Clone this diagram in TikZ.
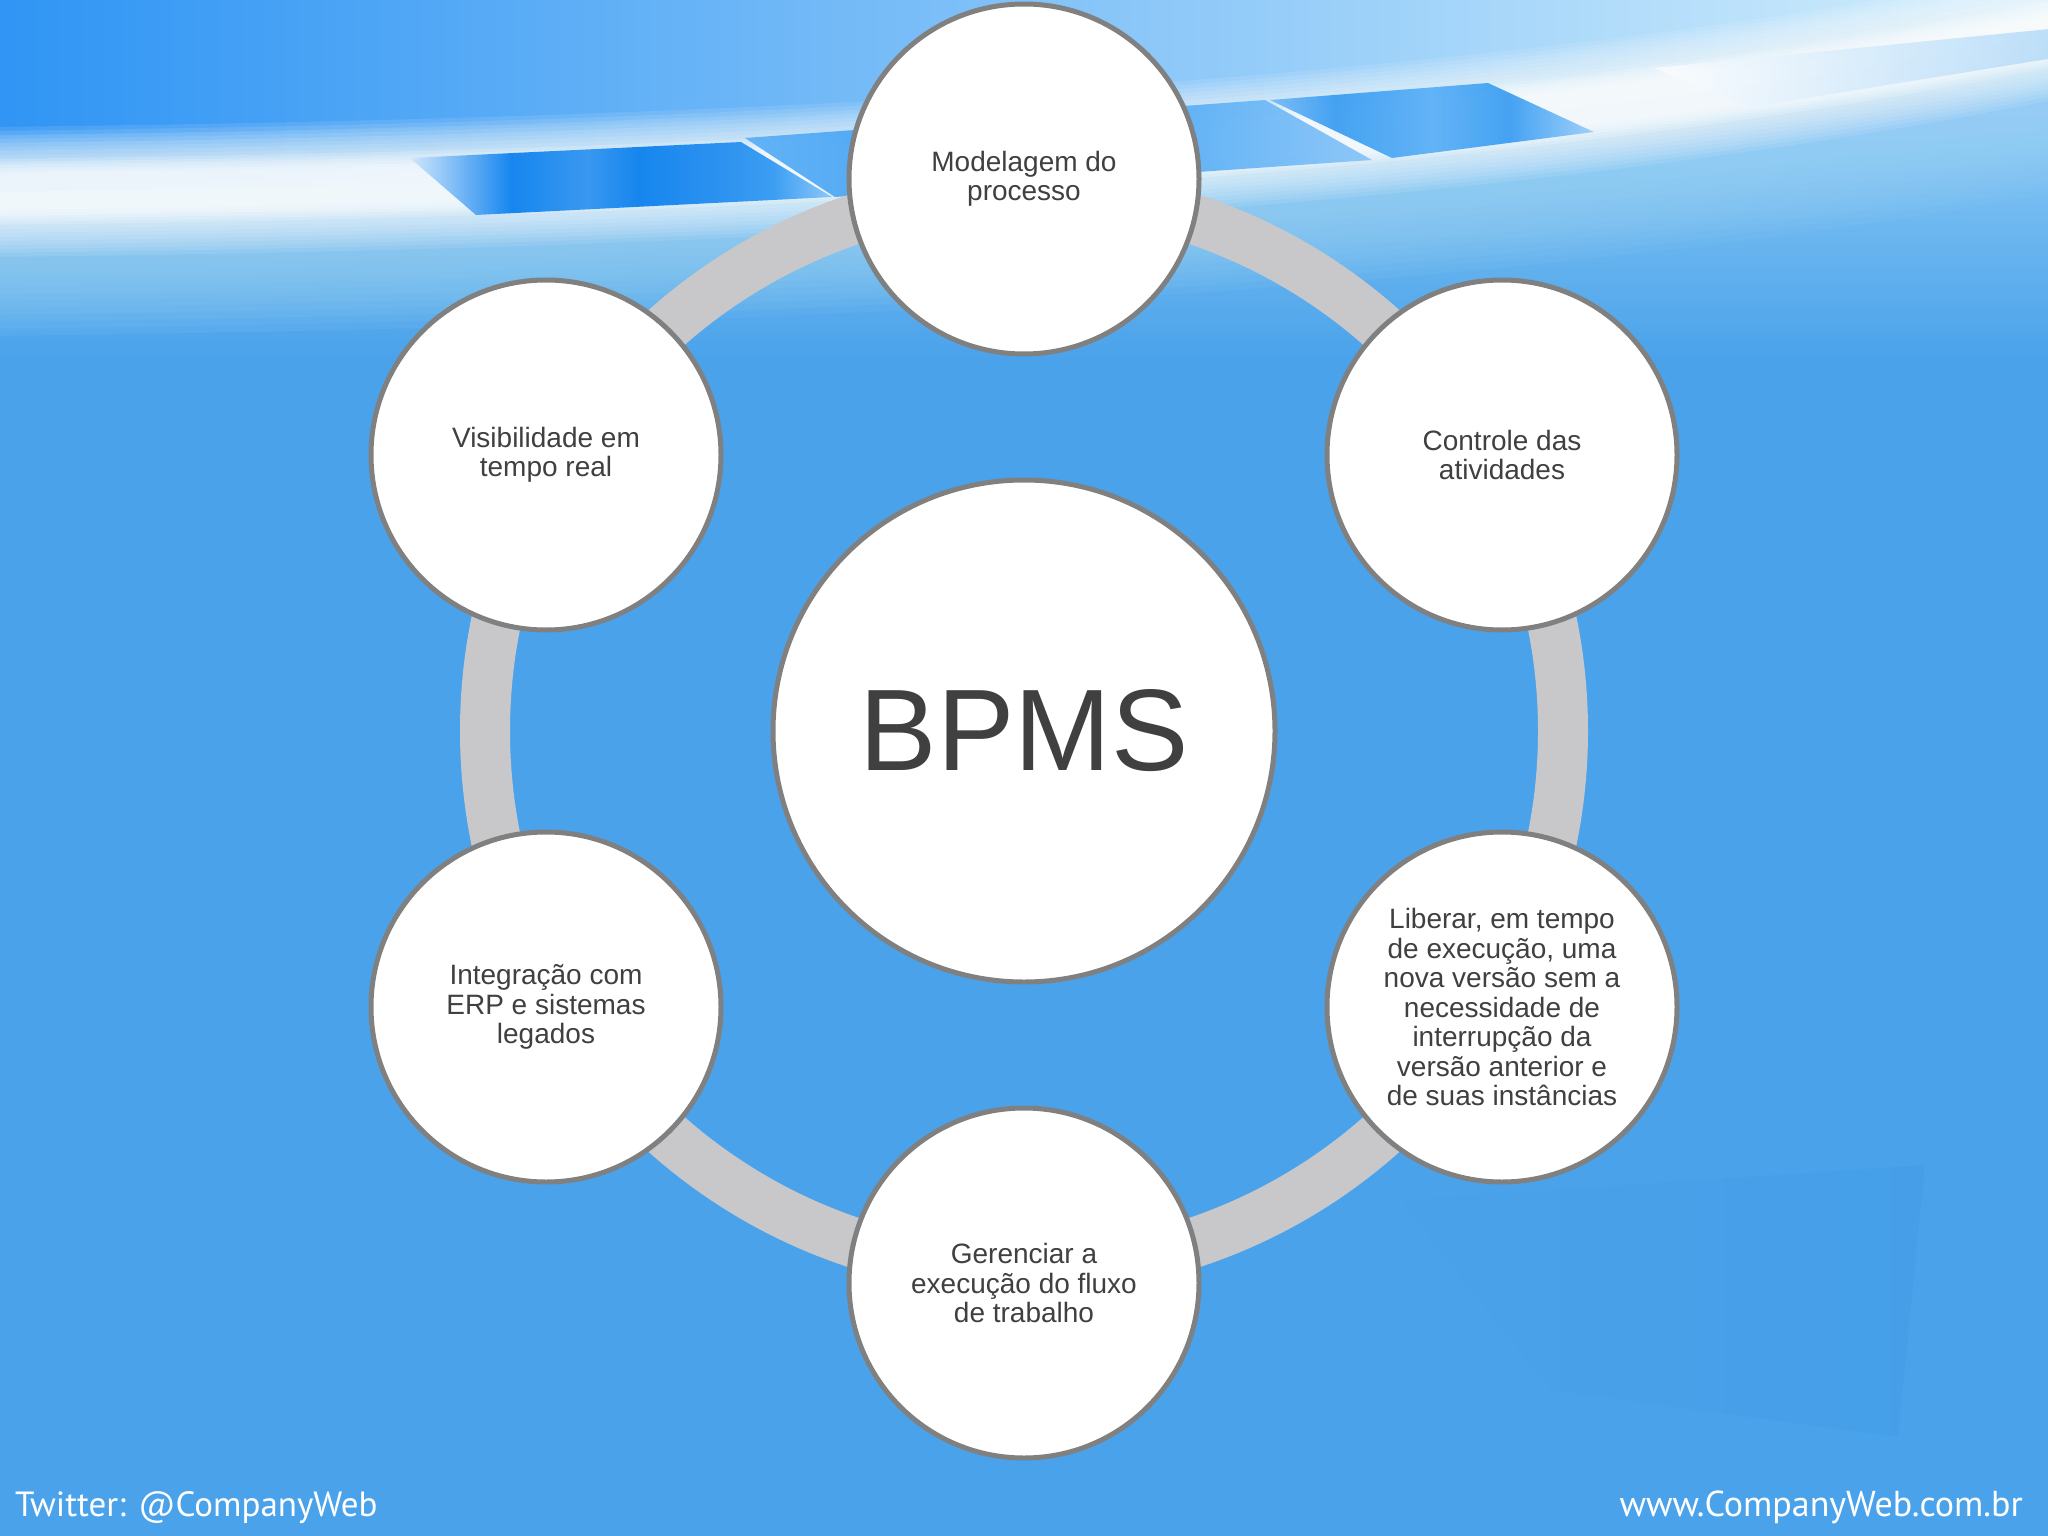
\documentclass[tikz,border=0pt]{standalone}
\usepackage{fontspec}
\setmainfont{Liberation Sans}
\newfontfamily\footfont{PT Sans}
\usetikzlibrary{fadings}
\definecolor{basebg}{RGB}{74,162,234}
\definecolor{skyL}{RGB}{46,148,244}
\definecolor{skyM}{RGB}{98,182,246}
\definecolor{skyR}{RGB}{214,240,252}
\definecolor{glow}{RGB}{160,214,248}
\definecolor{ringgray}{RGB}{200,200,202}
\definecolor{rimgray}{RGB}{128,128,128}
\definecolor{txtgray}{RGB}{64,64,64}
\definecolor{tileA}{RGB}{22,134,238}
\definecolor{tileB}{RGB}{92,176,246}
\definecolor{tileC}{RGB}{60,158,242}
\definecolor{tileD}{RGB}{140,200,246}
\definecolor{shadowbg}{RGB}{56,146,230}
\tikzfading[name=fadeR, left color=transparent!100, right color=transparent!0]
\pgfdeclarehorizontalshading{tileshadeA}{100bp}{color(0bp)=(white!80!tileA); color(25bp)=(white!80!tileA);
  color(31bp)=(tileA!60!white); color(37bp)=(tileA); color(46bp)=(tileA!85!white); color(52bp)=(tileA);
  color(62bp)=(tileA!90!white); color(68bp)=(tileC); color(75bp)=(tileB!70!white); color(100bp)=(tileB!70!white)}
\pgfdeclarehorizontalshading{tileshadeB}{100bp}{color(0bp)=(tileB); color(25bp)=(tileB);
  color(45bp)=(tileC); color(60bp)=(tileB); color(75bp)=(tileC!60!white); color(100bp)=(tileC!60!white)}
\pgfdeclarehorizontalshading{tileshadeC}{100bp}{color(0bp)=(tileC!70!white); color(25bp)=(tileC!70!white);
  color(35bp)=(tileC); color(50bp)=(tileB); color(62bp)=(tileC); color(75bp)=(tileB!60!white); color(100bp)=(tileB!60!white)}
\begin{document}
\begin{tikzpicture}[x=1pt,y=-1pt,
  bubble/.style={circle, draw=rimgray, line width=5pt, fill=white, minimum size=350pt,
    inner sep=0pt, align=center, text=txtgray, font=\fontsize{28}{29.5}\selectfont},
  hub/.style={circle, draw=rimgray, line width=5pt, fill=white, minimum size=502pt,
    inner sep=0pt, text=txtgray, font=\fontsize{116}{120}\selectfont},
  foot/.style={text=white, font=\footfont\fontsize{36}{40}\selectfont, inner sep=0pt},
  bandline/.style={white, line cap=butt},
  glowline/.style={glow, line cap=butt}]
\useasboundingbox (0,0) rectangle (2048,1536);
\begin{scope}
\clip (0,0) rectangle (2048,1536);
% base background
\fill[basebg] (-10,-10) rectangle (2060,1550);
% faint darker patch bottom right
\fill[shadowbg, path fading=fadeR, opacity=0.2] (1400,1200) -- (1925,1165) -- (1898,1437) -- (1551,1390) -- cycle;
% sky above the band
\shade[left color=skyL, middle color=skyM, right color=skyR]
  (-20,-20) -- (2070,-20) -- (2070,30) .. controls (1500,150) and (700,185) .. (-20,192) -- cycle;
% glow below the band
\shade[top color=glow, bottom color=basebg]
  (-20,192) .. controls (700,185) and (1500,150) .. (2070,30) -- (2070,360) -- (-20,360) -- cycle;
\foreach \w in {200,186,172,158,144,130,116,102,88,74,60} {
  \draw[glowline, line width=\w pt, opacity=0.085] (-20,236) .. controls (700,228) and (1500,198) .. (2070,88);
}
% white band, built from soft layers
\foreach \w in {130,122,114,106,98,90,82,74} {
  \draw[bandline, line width=\w pt, opacity=0.1] (-20,192) .. controls (700,185) and (1500,150) .. (2070,30);
}
\foreach \w in {66,60,54,48,42,36} {
  \draw[bandline, line width=\w pt, opacity=0.2] (-20,192) .. controls (700,185) and (1500,150) .. (2070,30);
}
% blue tiles in the band
\shade[shading=tileshadeA]
  (410,158) -- (741,142) -- (832,197) -- (476,215) -- cycle;
\shade[shading=tileshadeB, opacity=0.95]
  (745,138) -- (1265,100) -- (1372,160) -- (835,197) -- cycle;
\shade[shading=tileshadeC, opacity=0.95]
  (1270,100) -- (1488,83) -- (1594,132) -- (1392,158) -- cycle;
\shade[left color=white, middle color=tileD, right color=tileD!80!white, opacity=0.7]
  (1654,68) -- (2060,28) -- (2060,57) -- (1751,107) -- cycle;
\end{scope}
% ring
\draw[ringgray, line width=50pt] (1024,731) circle (539);
% nodes
\node[hub] (hub) at (1024,731) {BPMS};
\node[bubble] (n1) at (1024,179) {Modelagem do\\processo};
\node[bubble] (n2) at (1502,455) {Controle das\\atividades};
\node[bubble] (n3) at (1502,1007) {Liberar, em tempo\\de execução, uma\\nova versão sem a\\necessidade de\\interrupção da\\versão anterior e\\de suas instâncias};
\node[bubble] (n4) at (1024,1283) {Gerenciar a\\execução do fluxo\\de trabalho};
\node[bubble] (n5) at (546,1007) {Integração com\\ERP e sistemas\\legados};
\node[bubble] (n6) at (546,455) {Visibilidade em\\tempo real};
% footer
\node[foot, anchor=base west, font=\footfont\fontsize{35}{40}\selectfont] (tw) at (15,1516) {Twitter: @CompanyWeb};
\node[foot, anchor=base east] (web) at (2023,1516) {www.CompanyWeb.com.br};
\end{tikzpicture}
\end{document}
